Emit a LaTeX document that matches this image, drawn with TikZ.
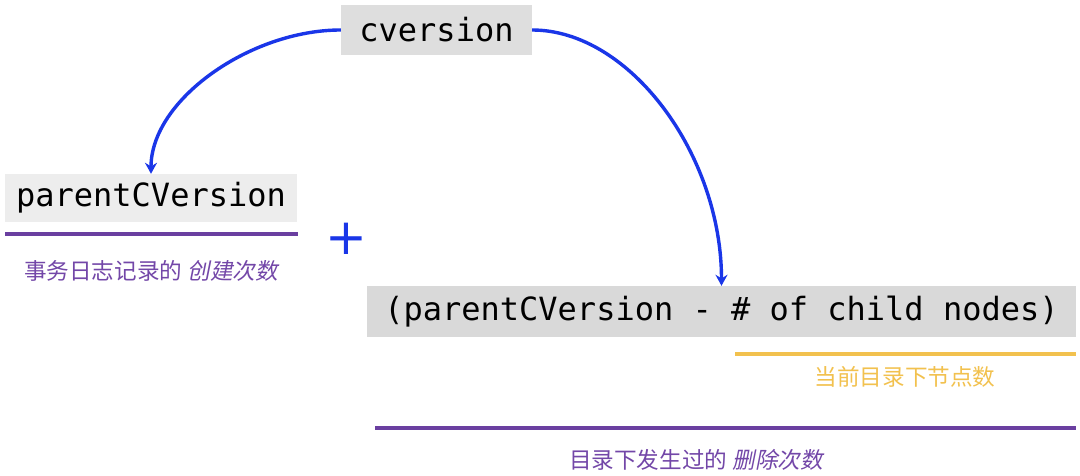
\documentclass[tikz,border=0pt]{standalone}
\usepackage{fontspec}
\setmonofont{DejaVu Sans Mono}
\newfontfamily\plusfont{DejaVu Sans}
\newfontfamily\cjk{Noto Sans CJK SC}
\newfontfamily\cjkit[FakeSlant=0.2]{Noto Sans CJK SC}
\usetikzlibrary{arrows.meta}
\definecolor{boxgrayA}{HTML}{DEDEDE}
\definecolor{boxgrayB}{HTML}{EDEDED}
\definecolor{boxgrayC}{HTML}{D9D9D9}
\definecolor{arrowblue}{HTML}{1A36E8}
\definecolor{linepurple}{HTML}{6A3FA0}
\definecolor{textpurple}{HTML}{7347A8}
\definecolor{lineyellow}{HTML}{F2C14E}
\begin{document}
\begin{tikzpicture}[x=1pt,y=-1pt,
  codebox/.style={inner sep=0pt, text=black, font=\ttfamily\fontsize{32}{38}\selectfont},
  conn/.style={draw=arrowblue, line width=3.4pt, -{Stealth[length=11pt,width=12pt]}},
  uline/.style={line width=3.2pt},
  note/.style={inner sep=0pt, font=\cjk\fontsize{22.6}{26}\selectfont}
]
\useasboundingbox (0,0) rectangle (1080,476);
\fill[white] (0,0) rectangle (1080,476);

\node[codebox, fill=boxgrayA, minimum width=191pt, minimum height=50pt] (cv) at (436.5,30) {cversion};
\node[codebox, fill=boxgrayB, minimum width=292pt, minimum height=48pt] (p) at (151,198) {parentCVersion};
\node[codebox, fill=boxgrayC, minimum width=709pt, minimum height=51pt] (big) at (721.5,311.5) {(parentCVersion - \# of child nodes)};

\draw[conn] (cv.west) .. controls (250,30) and (151,100) .. (p.north);
\draw[conn] (cv.east) .. controls (630,30) and (721.5,155) .. (big.north);

\node[inner sep=0pt, text=arrowblue, font=\plusfont\fontsize{50}{52}\selectfont] (plus) at (346.5,239) {+};

\draw[uline, draw=linepurple] (5,234) -- (298,234);
\node[note, text=textpurple] (n1) at (151,271) {事务日志记录的 {\cjkit 创建次数}};

\draw[uline, draw=lineyellow] (735,354) -- (1076,354);
\node[note, text=lineyellow] (n2) at (905,377) {当前目录下节点数};

\draw[uline, draw=linepurple] (375,428) -- (1076,428);
\node[note, text=textpurple] (n3) at (696,460) {目录下发生过的 {\cjkit 删除次数}};
\end{tikzpicture}
\end{document}
